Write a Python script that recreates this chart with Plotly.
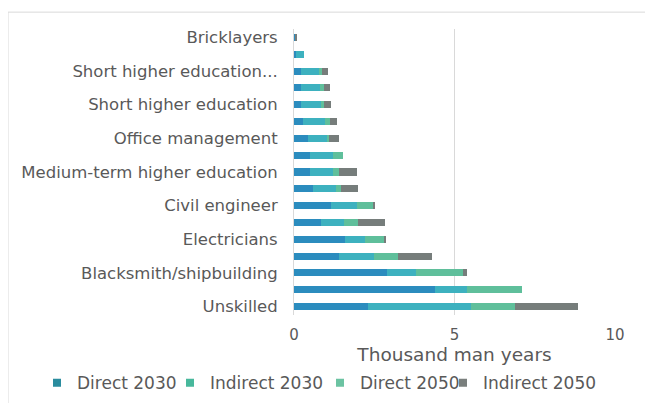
import plotly.graph_objects as go

# Categories top-to-bottom (only every other label is shown in the original)
labels = [
    "Bricklayers", None, "Short higher education...", None,
    "Short higher education", None, "Office management", None,
    "Medium-term higher education", None, "Civil engineer", None,
    "Electricians", None, "Blacksmith/shipbuilding", None, "Unskilled",
]
direct_2030 = [0.03, 0.05, 0.22, 0.22, 0.22, 0.28, 0.44, 0.50, 0.50, 0.60, 1.15, 0.85, 1.60, 1.40, 2.90, 4.40, 2.30]
indirect_2030 = [0.00, 0.25, 0.55, 0.60, 0.62, 0.70, 0.60, 0.70, 0.70, 0.70, 0.80, 0.70, 0.60, 1.10, 0.90, 1.00, 3.20]
direct_2050 = [0.00, 0.00, 0.10, 0.10, 0.10, 0.15, 0.05, 0.33, 0.20, 0.15, 0.50, 0.45, 0.60, 0.74, 1.45, 1.70, 1.40]
indirect_2050 = [0.07, 0.00, 0.20, 0.20, 0.21, 0.21, 0.31, 0.00, 0.56, 0.55, 0.07, 0.83, 0.07, 1.06, 0.14, 0.00, 1.95]
series_names = ["Direct 2030", "Indirect 2030", "Direct 2050", "Indirect 2050"]
x_ticks = [0, 5, 10]

colors = ["#2b8cbe", "#3db1bf", "#5fbf9b", "#767d7b"]
legend_colors = ["#2a8c9e", "#48b89c", "#6cc3a2", "#7a7f7d"]
n = len(labels)
ypos = list(range(n))
tickvals = [i for i, l in enumerate(labels) if l]
ticktext = [l for l in labels if l]

font_color = "#595959"
legend_ids = ["legend", "legend2", "legend3", "legend4"]
legend_x = [29, 162, 312, 435]  # left edge of each legend entry, px

fig = go.Figure()
for name, vals, c, lc, lid in zip(series_names, [direct_2030, indirect_2030, direct_2050, indirect_2050],
                                  colors, legend_colors, legend_ids):
    fig.add_trace(go.Bar(
        y=ypos, x=vals, name=name, orientation="h",
        marker=dict(color=c, line=dict(width=0)),
        showlegend=False, legendgroup=name,
    ))
    # legend swatch (small square as in the original)
    fig.add_trace(go.Scatter(
        x=[None], y=[None], mode="markers", name=name, legendgroup=name,
        marker=dict(symbol="square", size=8, color=lc),
        showlegend=True, legend=lid,
    ))

legend_common = dict(
    orientation="h", xref="container", yref="container",
    xanchor="left", y=0.069, yanchor="middle",
    font=dict(size=17, color=font_color),
    itemwidth=30, bgcolor="rgba(0,0,0,0)",
)

layout_legends = {}
for lid, lx in zip(legend_ids, legend_x):
    layout_legends[lid] = dict(legend_common, x=lx / 653)

fig.update_layout(
    width=653, height=403,
    barmode="stack",
    bargap=0.58,
    paper_bgcolor="white",
    plot_bgcolor="white",
    margin=dict(l=286, r=46, t=21, b=96, autoexpand=False),
    font=dict(family="DejaVu Sans", size=16, color=font_color),
    showlegend=True,
    xaxis=dict(
        range=[0, 10], tickvals=x_ticks, ticktext=[str(v) for v in x_ticks],
        showgrid=True, gridcolor="#d9d9d9", gridwidth=1,
        zeroline=False, showline=False, ticks="",
        title=dict(text="Thousand man years", font=dict(size=18.5, color=font_color), standoff=4),
        tickfont=dict(size=15, color=font_color),
        ticklabelstandoff=9,
        automargin=False,
    ),
    yaxis=dict(
        range=[n - 0.5, -0.5], tickvals=tickvals, ticktext=ticktext,
        showgrid=False, zeroline=False, ticks="",
        showline=True, linecolor="#d9d9d9", linewidth=1,
        tickfont=dict(size=16.5, color=font_color),
        ticklabelstandoff=12, automargin=False,
    ),
    shapes=[dict(
        type="rect", xref="paper", yref="paper",
        x0=-0.891, x1=1.103, y0=-0.36, y1=1.059,
        line=dict(color="#d9d9d9", width=1), fillcolor="rgba(0,0,0,0)", layer="below",
    )],
    **layout_legends,
)

fig.write_html("out.html")
